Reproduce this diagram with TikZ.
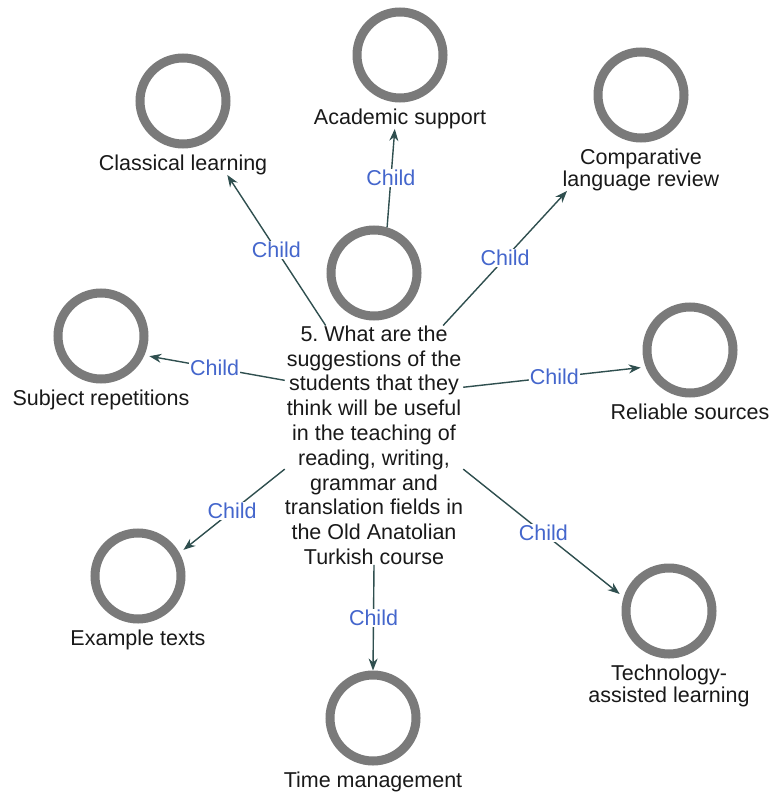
\documentclass[tikz,border=0pt]{standalone}
\usepackage{fontspec}
\setmainfont{Liberation Sans}
\usepackage{tikz}
\usetikzlibrary{arrows.meta}
\usetikzlibrary{positioning}
\frenchspacing

\definecolor{ringgray}{HTML}{7A7A7A}
\definecolor{linkteal}{HTML}{2F4F4F}
\definecolor{childblue}{HTML}{4466CC}

\begin{document}
\begin{tikzpicture}[x=1pt,y=-1pt]
		\useasboundingbox (0,0) rectangle (770,794);

		\begin{scope}[every node/.style={circle,draw=ringgray,line width=9pt,minimum size=86pt,inner sep=0pt}]
		    	\node (hub) at (374,273) {};
			\node (acad) at (400,55) {};
		    	\node (clsc) at (183,101) {};
			\node (cmpr) at (641,95) {};
		    	\node (subj) at (101,336) {};
			\node (rlbl) at (690,350) {};
		    	\node (expl) at (138,576) {};
			\node (tech) at (669,611) {};
		    	\node (timem) at (373,718) {};
		\end{scope}

		\begin{scope}[every node/.style={inner sep=0pt,align=center,text=black!90,font=\fontsize{21.5}{22}\selectfont}]
			\node[below=5pt of hub,font=\fontsize{21.5}{24.8}\selectfont] (q) {5. What are the\\suggestions of the\\students that they\\think will be useful\\in the teaching of\\reading, writing,\\grammar and\\translation fields in\\the Old Anatolian\\Turkish course};
			\node[below=6pt of acad] (acadl) {Academic support};
			\node[below=6pt of clsc] (clscl) {Classical learning};
			\node[below=6pt of cmpr] (cmprl) {Comparative\\language review};
			\node[below=6pt of subj] (subjl) {Subject repetitions};
			\node[below=6pt of rlbl] (rlbll) {Reliable sources};
			\node[below=6pt of expl] (expll) {Example texts};
			\node[below=6pt of tech] (techl) {Technology-\\assisted learning};
			\node[below=6pt of timem] (timeml) {Time management};
		\end{scope}

		\begin{scope}[>={Stealth[length=12pt,width=9pt]},
		              every node/.style={fill=white,text=childblue,inner sep=1pt,font=\fontsize{21.5}{22}\selectfont},
		              every edge/.style={draw=linkteal,line width=1.4pt,->}]
			\path (q.112) edge node {Child} (clscl.-13);
			\path (hub.74) edge node {Child} (acadl.243);
			\path (q.60) edge node {Child} (cmprl.196);
			\path (q.144) edge[shorten >=5pt] node {Child} (subj.-24);
			\path (q.33) edge[shorten >=5pt] node {Child} (rlbl.201);
			\path (q.195) edge[shorten >=5pt] node {Child} (expl.29);
			\path (q.345) edge[shorten >=5pt] node {Child} (tech.163);
			\path (q.south) edge node {Child} (timem.north);
		\end{scope}
\end{tikzpicture}
\end{document}
